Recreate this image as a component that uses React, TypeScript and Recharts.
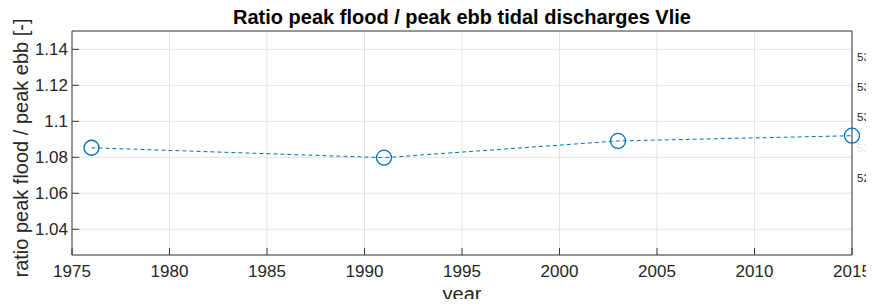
import { CartesianGrid, Label, Line, LineChart, XAxis, YAxis } from 'recharts'

const YEARS = [1976, 1991, 2003, 2015]
const RATIO = [1.0853, 1.0798, 1.0891, 1.092]
const X_TICKS = [1975, 1980, 1985, 1990, 1995, 2000, 2005, 2010, 2015]
const Y_TICKS = [1.04, 1.06, 1.08, 1.1, 1.12, 1.14]
const RIGHT_TICKS = [529, 530, 531, 532, 533]

const TITLE = 'Ratio peak flood / peak ebb tidal discharges Vlie'
const X_TITLE = 'year'
const Y_TITLE = 'ratio peak flood / peak ebb [-]'

const data = YEARS.map((year, i) => ({ year, ratio: RATIO[i] }))

const BLUE = '#0072BD'
const INK = '#262626'
const AXIS = '#3a3a3a'
const FONT = '"Liberation Sans", Arial, sans-serif'

function YTitle({ viewBox }: any) {
  const x = 21
  const cy = viewBox.y + viewBox.height / 2 + 5
  return (
    <text
      x={x}
      y={cy}
      transform={`rotate(-90 ${x} ${cy})`}
      textAnchor="middle"
      dominantBaseline="central"
      fontSize={20}
      fill={INK}
    >
      {Y_TITLE}
    </text>
  )
}

function XTitle({ viewBox }: any) {
  return (
    <text x={viewBox.x + viewBox.width / 2} y={301} textAnchor="middle" fontSize={20} fill={INK}>
      {X_TITLE}
    </text>
  )
}

function PlotTitle({ viewBox }: any) {
  return (
    <text x={viewBox.x + viewBox.width / 2} y={24} textAnchor="middle" fontSize={20} fontWeight="bold" fill="#000">
      {TITLE}
    </text>
  )
}

function RightTick({ x, y, payload }: any) {
  // the overlapped axis on the right is only partly visible
  const faint = payload.value === 530
  return (
    <text x={x} y={y} dy={4} textAnchor="start" fontSize={11.5} fill={faint ? '#e4e4e4' : INK}>
      {payload.value}
    </text>
  )
}

export default function App() {
  return (
    <div style={{ margin: -8, width: 874, height: 307, overflow: 'hidden', fontFamily: FONT, background: '#fff' }}>
      <LineChart width={910} height={307} data={data} margin={{ top: 30, right: 0, bottom: 0, left: 0 }}>
        <CartesianGrid stroke="#e2e2e2" strokeWidth={1} />
        <XAxis
          dataKey="year"
          type="number"
          domain={[1975, 2015]}
          ticks={X_TICKS}
          height={52}
          tickSize={-7}
          tickMargin={17}
          stroke={AXIS}
          tick={{ fontSize: 17, fill: INK }}
        >
          <Label content={<XTitle />} />
        </XAxis>
        <XAxis
          xAxisId="top"
          orientation="top"
          dataKey="year"
          type="number"
          domain={[1975, 2015]}
          ticks={X_TICKS}
          height={1}
          tickSize={-7}
          tick={false}
          stroke={AXIS}
        >
          <Label content={<PlotTitle />} />
        </XAxis>
        <YAxis
          type="number"
          domain={[1.0257, 1.1502]}
          allowDataOverflow
          ticks={Y_TICKS}
          width={72}
          tickSize={-7}
          tickMargin={11}
          stroke={AXIS}
          tick={{ fontSize: 17, fill: INK }}
        >
          <Label content={<YTitle />} />
        </YAxis>
        <YAxis
          yAxisId="mirror"
          orientation="right"
          type="number"
          domain={[1.0257, 1.1502]}
          allowDataOverflow
          ticks={Y_TICKS}
          width={10}
          tickSize={-7}
          tick={false}
          stroke={AXIS}
        />
        <YAxis
          yAxisId="other"
          orientation="right"
          type="number"
          domain={[526.46, 533.85]}
          allowDataOverflow
          ticks={RIGHT_TICKS}
          width={48}
          axisLine={false}
          tickLine={false}
          tickSize={0}
          tickMargin={-5}
          tick={<RightTick />}
        />
        <Line
          type="linear"
          dataKey="ratio"
          stroke={BLUE}
          strokeWidth={1}
          strokeDasharray="4 3"
          dot={{ r: 7.5, fill: 'none', stroke: BLUE, strokeWidth: 1.3, strokeDasharray: '' }}
          isAnimationActive={false}
        />
      </LineChart>
    </div>
  )
}
